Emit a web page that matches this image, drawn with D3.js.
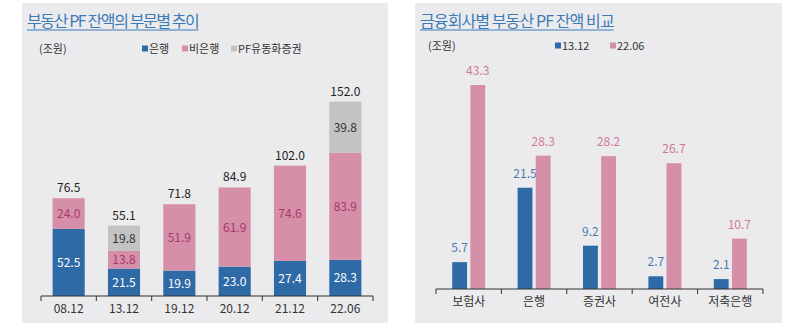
<!DOCTYPE html>
<html>
<head>
<meta charset="utf-8">
<script src="https://cdn.jsdelivr.net/npm/d3@7"></script>
<style>
  body { margin: 0; background: #fff; }
  svg { display: block; font-family: "Noto Sans CJK KR", "Noto Sans", sans-serif; }
</style>
</head>
<body>
<svg id="chart" width="800" height="326"></svg>
<script>
'use strict';

// left panel: 부동산 PF 잔액의 부문별 추이
const periods = ['08.12', '13.12', '19.12', '20.12', '21.12', '22.06'];
const bankValues = [52.5, 21.5, 19.9, 23.0, 27.4, 28.3];
const nonBankValues = [24.0, 13.8, 51.9, 61.9, 74.6, 83.9];
const pfSecValues = [0, 19.8, 0, 0, 0, 39.8];
const totalValues = [76.5, 55.1, 71.8, 84.9, 102.0, 152.0];
const stackKeys = ['은행', '비은행', 'PF유동화증권'];

// right panel: 금융회사별 부동산 PF 잔액 비교
const companies = ['보험사', '은행', '증권사', '여전사', '저축은행'];
const compareSeries = ['13.12', '22.06'];
const values1312 = [5.7, 21.5, 9.2, 2.7, 2.1];
const values2206 = [43.3, 28.3, 28.2, 26.7, 10.7];

const colors = {
  bank: '#2e6aa6',
  nonBank: '#d58fa9',
  pf: '#c3c3c3',
  bg: '#ebebed',
  title: '#3c7bb9',
  axis: '#333',
};

const svg = d3.select('#chart');

const drawPanel = (x0, x1, title, spacing) => {
  svg.append('rect')
    .attr('x', x0).attr('y', 3)
    .attr('width', x1 - x0).attr('height', 320)
    .attr('fill', colors.bg);
  const t = svg.append('text')
    .attr('x', x0 + 5).attr('y', 27)
    .attr('fill', colors.title)
    .attr('font-size', 16)
    .attr('letter-spacing', spacing)
    .text(title);
  const w = t.node().getComputedTextLength();
  svg.append('line')
    .attr('x1', x0 + 5).attr('x2', x0 + 5 + w)
    .attr('y1', 30).attr('y2', 30)
    .attr('stroke', colors.title).attr('stroke-width', 1);
};

const drawLegend = (items, y) => {
  items.forEach((it) => {
    svg.append('rect')
      .attr('x', it.x).attr('y', y - 3.5)
      .attr('width', 6).attr('height', 6)
      .attr('fill', it.color);
    svg.append('text')
      .attr('x', it.x + 7).attr('y', y + 4)
      .attr('font-size', 11).attr('fill', '#333')
      .text(it.label);
  });
};

const drawAxis = (xScale, baseY, cats) => {
  const step = xScale.step();
  const half = xScale.bandwidth() / 2;
  const [r0, r1] = xScale.range();
  svg.append('line')
    .attr('x1', r0).attr('x2', r1)
    .attr('y1', baseY).attr('y2', baseY)
    .attr('stroke', colors.axis).attr('stroke-width', 1);
  const ticks = cats.map((c) => xScale(c) + half - step / 2);
  ticks.push(r1);
  svg.selectAll(null).data(ticks).enter().append('line')
    .attr('x1', (d) => d).attr('x2', (d) => d)
    .attr('y1', baseY).attr('y2', baseY + 5)
    .attr('stroke', colors.axis);
  svg.selectAll(null).data(cats).enter().append('text')
    .attr('x', (d) => xScale(d) + half)
    .attr('y', baseY + 17)
    .attr('text-anchor', 'middle')
    .attr('font-size', 12).attr('fill', '#333')
    .text((d) => d);
};

/* ---------- left: stacked bars ---------- */
drawPanel(22, 388, '부동산 PF 잔액의 부문별 추이', -1.4);
svg.append('text').attr('x', 39).attr('y', 53)
  .attr('font-size', 11).attr('fill', '#333').text('(조원)');
drawLegend([
  { x: 142, label: stackKeys[0], color: colors.bank },
  { x: 182, label: stackKeys[1], color: colors.nonBank },
  { x: 231, label: stackKeys[2], color: colors.pf },
], 49);

const leftBase = 296;
const xLeft = d3.scaleBand().domain(periods).range([41, 373])
  .paddingInner(0.42).paddingOuter(0.21);
const yLeft = d3.scaleLinear().domain([0, 160]).range([leftBase, leftBase - 204.5]);

const stackRows = periods.map((p, i) => ({
  period: p,
  [stackKeys[0]]: bankValues[i],
  [stackKeys[1]]: nonBankValues[i],
  [stackKeys[2]]: pfSecValues[i],
}));
const stacked = d3.stack().keys(stackKeys)(stackRows);
const segFill = [colors.bank, colors.nonBank, colors.pf];
const segText = ['#ffffff', '#a53a67', '#333333'];

stacked.forEach((layer, li) => {
  const g = svg.append('g');
  const segs = layer.filter((d) => d[1] - d[0] > 0);
  g.selectAll('rect').data(segs).enter().append('rect')
    .attr('x', (d) => xLeft(d.data.period))
    .attr('y', (d) => yLeft(d[1]))
    .attr('width', xLeft.bandwidth())
    .attr('height', (d) => yLeft(d[0]) - yLeft(d[1]))
    .attr('fill', segFill[li]);
  g.selectAll('text').data(segs).enter().append('text')
    .attr('x', (d) => xLeft(d.data.period) + xLeft.bandwidth() / 2)
    .attr('y', (d) => (yLeft(d[0]) + yLeft(d[1])) / 2 + 4.5)
    .attr('text-anchor', 'middle')
    .attr('font-size', 12).attr('fill', segText[li])
    .text((d) => d3.format('.1f')(d[1] - d[0]));
});

svg.selectAll(null).data(periods).enter().append('text')
  .attr('x', (d) => xLeft(d) + xLeft.bandwidth() / 2)
  .attr('y', (d, i) => yLeft(totalValues[i]) - 6)
  .attr('text-anchor', 'middle')
  .attr('font-size', 12).attr('fill', '#222')
  .text((d, i) => d3.format('.1f')(totalValues[i]));

drawAxis(xLeft, leftBase, periods);

/* ---------- right: grouped bars ---------- */
drawPanel(415, 782, '금융회사별 부동산 PF 잔액 비교', -0.9);
svg.append('text').attr('x', 428).attr('y', 50)
  .attr('font-size', 11).attr('fill', '#333').text('(조원)');
drawLegend([
  { x: 555, label: compareSeries[0], color: colors.bank },
  { x: 610, label: compareSeries[1], color: colors.nonBank },
], 46);

const rightBase = 289;
const xRight = d3.scaleBand().domain(companies).range([436, 763])
  .paddingInner(0.5).paddingOuter(0.25);
const xSub = d3.scaleBand().domain(compareSeries)
  .range([-16.5, 16.5]).paddingInner(0.18);
const yRight = d3.scaleLinear().domain([0, 45]).range([rightBase, rightBase - 212]);

const groupSeries = [
  { key: compareSeries[0], values: values1312, fill: colors.bank, text: '#4a7aac' },
  { key: compareSeries[1], values: values2206, fill: colors.nonBank, text: '#d07a98' },
];
const center = (c) => xRight(c) + xRight.bandwidth() / 2;

groupSeries.forEach((s) => {
  const g = svg.append('g');
  g.selectAll('rect').data(companies).enter().append('rect')
    .attr('x', (c) => center(c) + xSub(s.key))
    .attr('y', (c, i) => yRight(s.values[i]))
    .attr('width', xSub.bandwidth())
    .attr('height', (c, i) => rightBase - yRight(s.values[i]))
    .attr('fill', s.fill);
  g.selectAll('text').data(companies).enter().append('text')
    .attr('x', (c) => center(c) + xSub(s.key) + xSub.bandwidth() / 2)
    .attr('y', (c, i) => yRight(s.values[i]) - 10)
    .attr('text-anchor', 'middle')
    .attr('font-size', 12).attr('fill', s.text)
    .text((c, i) => d3.format('.1f')(s.values[i]));
});

drawAxis(xRight, rightBase, companies);
</script>
</body>
</html>
